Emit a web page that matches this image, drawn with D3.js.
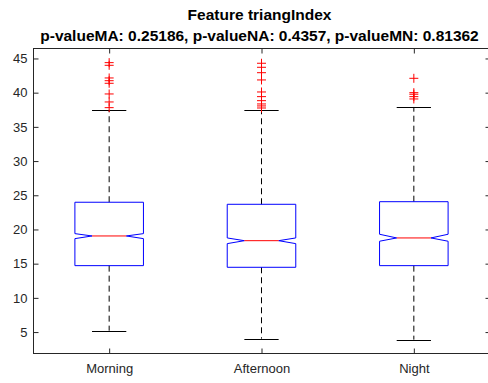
<!DOCTYPE html>
<html>
<head>
<meta charset="utf-8">
<script src="https://cdn.jsdelivr.net/npm/d3@7"></script>
<style>
  html, body { margin: 0; padding: 0; background: #fff; }
  svg { display: block; }
  text { font-family: "Liberation Sans", Arial, Helvetica, sans-serif; }
</style>
</head>
<body>
<svg id="chart" width="488" height="383"></svg>
<script>
// Box-plot summary for each time of day
const categories = ["Morning", "Afternoon", "Night"];
const q1        = [14.71, 14.47, 14.71];
const medians   = [19.05, 18.36, 18.76];
const q3        = [23.98, 23.68, 24.06];
const notchLo   = [18.66, 17.93, 18.28];
const notchHi   = [19.39, 18.76, 19.30];
const whiskerLo = [5.2, 4.04, 3.89];
const whiskerHi = [37.5, 37.47, 37.91];
const outliers  = [
  [44.39, 44.0, 42.15, 41.75, 41.37, 39.81, 38.64, 37.81],
  [44.3, 43.71, 42.92, 41.86, 40.1, 39.42, 38.83, 38.35, 38.06, 37.76],
  [42.1, 40.0, 39.77, 39.42, 39.08]
];
const yTicks = [5, 10, 15, 20, 25, 30, 35, 40, 45];
const titleLines = [
  "Feature triangIndex",
  "p-valueMA: 0.25186, p-valueNA: 0.4357, p-valueMN: 0.81362"
];

const svg = d3.select("#chart");
const axisColor = "#262626";

const plotL = 33, plotR = 490, plotT = 48, plotB = 353;
const x = d3.scaleLinear().domain([0.5, 3.5]).range([plotL, plotR]);
const y = d3.scaleLinear().domain([1.94, 46.53]).range([plotB, plotT]);

const boxW = 0.45;            // box width in category units
const unit = x(2) - x(1);
const halfW = boxW * unit / 2;
const inset = halfW / 2;      // notch narrows to half the box width
const capHalf = halfW / 2;

// Frame
svg.append("rect")
  .attr("x", plotL + 0.5).attr("y", plotT + 0.5)
  .attr("width", plotR - plotL).attr("height", plotB - plotT)
  .attr("fill", "none").attr("stroke", axisColor).attr("stroke-width", 1);

// Y axis (ticks point inward) and mirrored ticks on the right
const yAxis = d3.axisLeft(y).tickValues(yTicks).tickSizeInner(-5).tickSizeOuter(0).tickPadding(6);
const gy = svg.append("g").attr("transform", `translate(${plotL + 0.5},0)`).call(yAxis);
gy.select(".domain").remove();
gy.selectAll("line").attr("stroke", axisColor);
gy.selectAll("text").attr("fill", axisColor).style("font-size", "13px");

const gyR = svg.append("g").attr("transform", `translate(${plotR + 0.5},0)`)
  .call(d3.axisRight(y).tickValues(yTicks).tickSizeInner(-5).tickSizeOuter(0).tickFormat(""));
gyR.select(".domain").remove();
gyR.selectAll("line").attr("stroke", axisColor);

// X axis with category labels, plus mirrored ticks on top
const xAxis = d3.axisBottom(x).tickValues([1, 2, 3])
  .tickFormat((d) => categories[d - 1]).tickSizeInner(-5).tickSizeOuter(0).tickPadding(10);
const gx = svg.append("g").attr("transform", `translate(0,${plotB + 0.5})`).call(xAxis);
gx.select(".domain").remove();
gx.selectAll("line").attr("stroke", axisColor);
gx.selectAll("text").attr("fill", axisColor).style("font-size", "13px");

const gxT = svg.append("g").attr("transform", `translate(0,${plotT + 0.5})`)
  .call(d3.axisTop(x).tickValues([1, 2, 3]).tickSizeInner(-5).tickSizeOuter(0).tickFormat(""));
gxT.select(".domain").remove();
gxT.selectAll("line").attr("stroke", axisColor);

// Boxes
const plot = svg.append("g");
categories.forEach((c, i) => {
  const cx = x(i + 1);
  const xl = cx - halfW, xr = cx + halfW;

  // whiskers
  plot.append("line")
    .attr("x1", cx).attr("x2", cx).attr("y1", y(q3[i])).attr("y2", y(whiskerHi[i]))
    .attr("stroke", "#000").attr("stroke-dasharray", "6,4");
  plot.append("line")
    .attr("x1", cx).attr("x2", cx).attr("y1", y(q1[i])).attr("y2", y(whiskerLo[i]))
    .attr("stroke", "#000").attr("stroke-dasharray", "6,4");
  [whiskerHi[i], whiskerLo[i]].forEach((v) => {
    plot.append("line")
      .attr("x1", cx - capHalf).attr("x2", cx + capHalf)
      .attr("y1", Math.round(y(v)) + 0.5).attr("y2", Math.round(y(v)) + 0.5)
      .attr("stroke", "#000");
  });

  // notched box
  const p = d3.path();
  p.moveTo(xl, y(q3[i]));
  p.lineTo(xr, y(q3[i]));
  p.lineTo(xr, y(notchHi[i]));
  p.lineTo(xr - inset, y(medians[i]));
  p.lineTo(xr, y(notchLo[i]));
  p.lineTo(xr, y(q1[i]));
  p.lineTo(xl, y(q1[i]));
  p.lineTo(xl, y(notchLo[i]));
  p.lineTo(xl + inset, y(medians[i]));
  p.lineTo(xl, y(notchHi[i]));
  p.closePath();
  plot.append("path").attr("d", p.toString())
    .attr("fill", "none").attr("stroke", "#0000ff").attr("stroke-width", 1);

  // median
  plot.append("line")
    .attr("x1", xl + inset).attr("x2", xr - inset)
    .attr("y1", y(medians[i])).attr("y2", y(medians[i]))
    .attr("stroke", "#ff0000");

  // outliers
  outliers[i].forEach((v) => {
    const py = y(v);
    plot.append("path")
      .attr("d", `M${cx - 4.5},${py}H${cx + 4.5}M${cx},${py - 4.5}V${py + 4.5}`)
      .attr("stroke", "#ff0000").attr("fill", "none");
  });
});

// Title
const titleX = (plotL + plotR) / 2 - 2;
svg.append("text").attr("x", titleX).attr("y", 20)
  .attr("text-anchor", "middle").style("font-size", "15.5px").style("font-weight", "bold")
  .attr("fill", "#000").text(titleLines[0]);
svg.append("text").attr("x", titleX).attr("y", 41)
  .attr("text-anchor", "middle").style("font-size", "15.5px").style("font-weight", "bold")
  .attr("fill", "#000").text(titleLines[1]);
</script>
</body>
</html>
